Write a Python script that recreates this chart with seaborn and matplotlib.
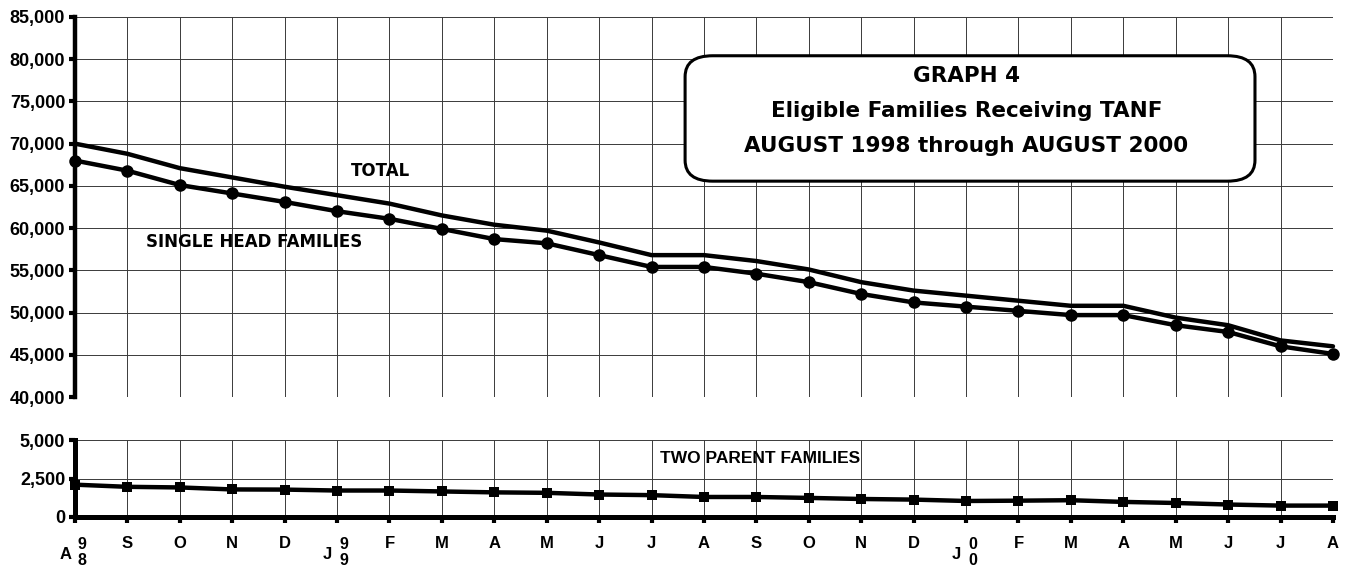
import matplotlib
matplotlib.use("Agg")
import matplotlib.pyplot as plt
from matplotlib.patches import FancyBboxPatch
from matplotlib.ticker import FuncFormatter
import seaborn as sns
import pandas as pd

# ── Data (Aug 1998 – Aug 2000) ───────────────────────────────────────────
MONTHS = ["A", "S", "O", "N", "D", "J", "F", "M", "A", "M", "J", "J",
          "A", "S", "O", "N", "D", "J", "F", "M", "A", "M", "J", "J", "A"]
YEAR_MARKS = {0: "9\n8", 5: "9\n9", 17: "0\n0"}

TOTAL = [70000, 68800, 67100, 66000, 64900, 63900, 62900, 61500, 60400,
         59700, 58300, 56800, 56800, 56100, 55100, 53600, 52600, 52000,
         51400, 50800, 50800, 49400, 48500, 46700, 46000]
SINGLE_HEAD = [68000, 66800, 65100, 64100, 63100, 62000, 61100, 59900,
               58700, 58200, 56800, 55400, 55400, 54600, 53600, 52200,
               51200, 50700, 50200, 49700, 49700, 48500, 47700, 46000, 45100]
TWO_PARENT = [2100, 1960, 1920, 1790, 1780, 1720, 1720, 1660, 1600, 1570,
              1460, 1420, 1300, 1300, 1240, 1170, 1130, 1040, 1060, 1090,
              980, 910, 810, 740, 740]

df = pd.DataFrame({"idx": range(len(MONTHS)), "total": TOTAL,
                   "single": SINGLE_HEAD, "two": TWO_PARENT})

sns.set_theme(style="white")
plt.rcParams["font.family"] = ["Liberation Sans", "DejaVu Sans"]
plt.rcParams["text.color"] = "black"
plt.rcParams["xtick.color"] = "black"
plt.rcParams["ytick.color"] = "black"
plt.rcParams["axes.labelcolor"] = "black"

fig = plt.figure(figsize=(13.53, 5.70), dpi=100)
ax1 = fig.add_axes([0.0554, 0.3035, 0.9298, 0.6667])
ax2 = fig.add_axes([0.0554, 0.093, 0.9298, 0.135])

GRID = dict(color="#3a3a3a", linewidth=0.7)

# ── Top panel: total and single head families ───────────────────────────
sns.lineplot(data=df, x="idx", y="total", ax=ax1, color="black",
             linewidth=3.2, clip_on=False)
sns.lineplot(data=df, x="idx", y="single", ax=ax1, color="black",
             linewidth=3.2, marker="o", markersize=9, markeredgewidth=0,
             clip_on=False)

ax1.set_xlim(0, 24)
ax1.set_ylim(40000, 85000)
ax1.set_xticks(range(25))
ax1.set_xticklabels([])
ax1.set_yticks(range(40000, 85001, 5000))
ax1.yaxis.set_major_formatter(FuncFormatter(lambda v, _: f"{v:,.0f}"))
ax1.grid(True, **GRID)
ax1.set_xlabel("")
ax1.set_ylabel("")
for s in ["top", "right", "bottom"]:
    ax1.spines[s].set_visible(False)
ax1.spines["left"].set_linewidth(3.2)
ax1.spines["left"].set_color("black")
ax1.tick_params(axis="x", length=0)
ax1.tick_params(axis="y", left=True, length=4, width=3, color="black",
                labelsize=13, pad=3)
for lbl in ax1.get_yticklabels():
    lbl.set_fontweight("bold")

ax1.text(5.82, 66800, "TOTAL", ha="center", va="center", fontsize=12,
         fontweight="bold", family="DejaVu Sans")
ax1.text(3.42, 58350, "SINGLE HEAD FAMILIES", ha="center", va="center",
         fontsize=12, fontweight="bold", family="DejaVu Sans")

box = FancyBboxPatch((0.485, 0.568), 0.453, 0.33,
                     boxstyle="round,pad=0,rounding_size=0.022",
                     transform=ax1.transAxes, facecolor="white",
                     edgecolor="black", linewidth=2.2, zorder=5,
                     mutation_aspect=2.5)
ax1.add_patch(box)
for yy, txt in [(0.845, "GRAPH 4"),
                (0.753, "Eligible Families Receiving TANF"),
                (0.66, "AUGUST 1998 through AUGUST 2000")]:
    ax1.text(0.7085, yy, txt, transform=ax1.transAxes, ha="center",
             va="center", fontsize=15.5, fontweight="bold",
             family="DejaVu Sans", zorder=6)

# ── Bottom panel: two parent families ───────────────────────────────────
sns.lineplot(data=df, x="idx", y="two", ax=ax2, color="black",
             linewidth=3.2, marker="s", markersize=7, markeredgewidth=0,
             clip_on=False)

ax2.set_xlim(0, 24)
ax2.set_ylim(0, 5000)
ax2.set_yticks([0, 2500, 5000])
ax2.yaxis.set_major_formatter(FuncFormatter(lambda v, _: f"{v:,.0f}"))
ax2.set_xticks(range(25))
ax2.set_xticklabels(["" if i in YEAR_MARKS else m
                     for i, m in enumerate(MONTHS)])
ax2.grid(True, **GRID)
ax2.set_xlabel("")
ax2.set_ylabel("")
for s in ["top", "right"]:
    ax2.spines[s].set_visible(False)
for s in ["left", "bottom"]:
    ax2.spines[s].set_linewidth(3.6)
    ax2.spines[s].set_color("black")
ax2.tick_params(axis="x", bottom=True, direction="out", length=4.5, width=3,
                color="black", labelsize=12, pad=9)
ax2.tick_params(axis="y", left=True, length=4, width=3, color="black",
                labelsize=13, pad=3)
for lbl in ax2.get_xticklabels() + ax2.get_yticklabels():
    lbl.set_fontweight("bold")

for i, yr in YEAR_MARKS.items():
    ax2.annotate(MONTHS[i], xy=(i, 0), xycoords=("data", "axes fraction"),
                 xytext=(-7, -27), textcoords="offset points",
                 ha="center", va="center", fontsize=12, fontweight="bold",
                 annotation_clip=False)
    ax2.annotate(yr, xy=(i, 0), xycoords=("data", "axes fraction"),
                 xytext=(5, -25.5), textcoords="offset points",
                 ha="center", va="center", fontsize=11.5, fontweight="bold",
                 linespacing=1.1, annotation_clip=False)

ax2.text(13.07, 3780, "TWO PARENT FAMILIES", ha="center", va="center",
         fontsize=12.5, fontweight="bold")

fig.savefig("out.png", dpi=100)
print("Saved: out.png")
